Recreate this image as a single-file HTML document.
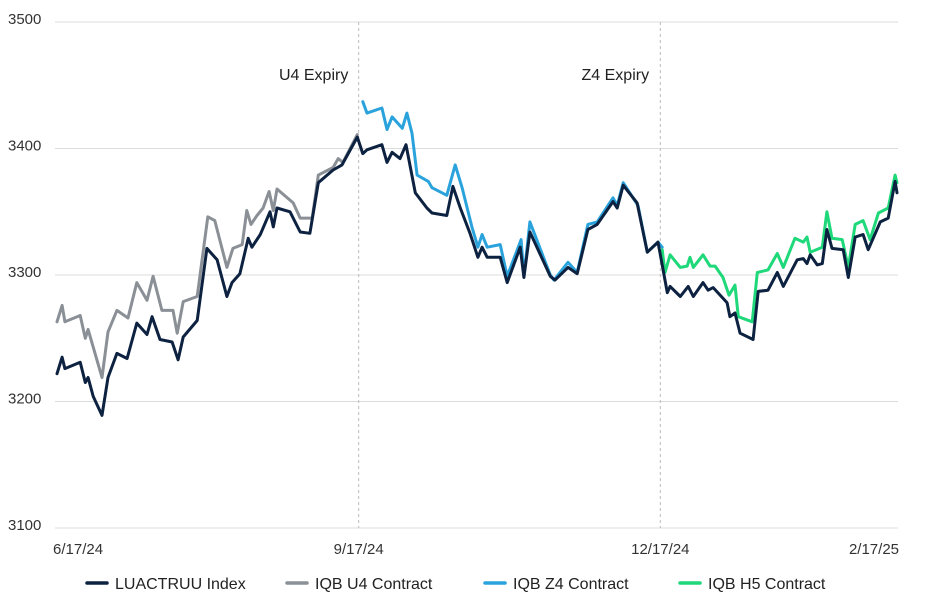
<!DOCTYPE html>
<html><head><meta charset="utf-8">
<style>
html,body{margin:0;padding:0;background:#fff;}
svg text{font-family:"Liberation Sans",sans-serif;}
</style></head>
<body>
<svg id="chart" width="940" height="600" viewBox="0 0 940 600" xmlns="http://www.w3.org/2000/svg">
<g id="grid"></g>
<g id="yaxis"></g>
<g id="xaxis"></g>
<g id="annot"></g>
<g id="series"></g>
<g id="legend"></g>
</svg>
<script>
// x in trading sessions from 6/17/24
const xTickSessions = [0, 65, 130, 181];
const xTickLabels = ["6/17/24", "9/17/24", "12/17/24", "2/17/25"];
const yTicks = [3100, 3200, 3300, 3400, 3500];
const expirySessions = [65, 130];
const expiryLabels = ["U4 Expiry", "Z4 Expiry"];

const idxSessions = [0,1.1,1.7,5,6.1,6.7,7.8,9.7,11,12.9,15.1,17.2,19.4,20.5,22.2,24.8,26.1,27.2,30.2,32.3,34.5,36.6,37.7,39.4,41.2,42,43.8,45.9,46.6,47.4,50.2,52.4,54.5,56.3,59.5,61.4,64.7,65.9,66.8,70,71.1,72.2,73.9,75.2,77.2,79.7,80.8,84,85.3,86.9,89,90.7,91.6,92.7,95.5,97,99.8,100.6,101.9,106.3,107.3,110.1,112.1,114.4,116.4,119.8,120.7,122,125,127.2,129.5,131.5,132.1,134.3,136,137.1,139.2,140.3,141.4,144.4,145,146.1,147.2,150,151.1,153.2,155.2,156.5,159.5,160.8,161.6,162.3,163.8,164.9,165.9,167,169.4,170.5,172,173.7,174.8,177.4,179.1,180.6,181];
const idxValues = [3222,3235,3226,3231,3215,3219,3204,3189,3219,3238,3234,3262,3253,3267,3249,3247,3233,3251,3264,3321,3312,3283,3294,3301,3329,3322,3332,3350,3338,3353,3350,3334,3333,3373,3383,3387,3409,3396,3399,3403,3389,3397,3392,3403,3365,3353,3349,3347,3370,3353,3333,3314,3322,3314,3314,3294,3322,3298,3334,3299,3296,3306,3301,3336,3340,3358,3353,3371,3357,3318,3326,3286,3291,3283,3291,3283,3294,3288,3290,3278,3267,3270,3254,3249,3287,3288,3302,3291,3312,3313,3309,3316,3308,3309,3336,3321,3320,3298,3330,3332,3320,3342,3345,3374,3365];

const u4Sessions = [0,1.1,1.7,5,6.1,6.7,9.7,11,12.9,15.3,17.2,19.4,20.7,22.6,25,25.9,27.2,30.2,32.5,34,36.6,37.9,39.9,40.9,41.8,43.1,44.4,45.7,46.6,47.4,50.9,52.4,55,56.3,59.5,60.6,61.6,64.7];
const u4Values = [3263,3276,3263,3268,3250,3257,3219,3255,3272,3266,3294,3280,3299,3272,3272,3254,3279,3283,3346,3343,3306,3321,3324,3351,3340,3347,3353,3366,3351,3368,3357,3345,3345,3379,3385,3392,3389,3411];

const z4Sessions = [65.9,66.8,70,71.1,72.2,74.4,75.4,76.5,77.6,80,80.8,84,85.8,87.3,89.4,90.7,91.6,92.7,95.5,97,100,100.6,101.9,106.3,107.1,110.1,112.1,114.4,116.4,119.8,120.7,122,125.2,127.2,129.5,130.4];
const z4Values = [3437,3428,3432,3415,3425,3416,3428,3412,3379,3374,3369,3363,3387,3369,3338,3322,3332,3322,3324,3299,3328,3299,3342,3300,3296,3310,3302,3340,3342,3361,3355,3373,3355,3318,3326,3322];

const h5Sessions = [130.4,131,132.1,134.3,135.8,136.4,137.1,139.2,140.7,141.8,143.5,144.8,146.1,146.8,149.8,150.9,153.2,155.2,156.5,159,160.8,161.6,162.3,164.9,165.9,167,169.2,170.5,172,173.7,175.2,177,179.1,180.6,181];
const h5Values = [3320,3302,3316,3306,3307,3314,3306,3316,3307,3307,3298,3284,3292,3267,3263,3302,3304,3317,3306,3329,3326,3330,3318,3322,3350,3329,3328,3306,3340,3343,3328,3349,3353,3379,3373];

const seriesNames = ["LUACTRUU Index", "IQB U4 Contract", "IQB Z4 Contract", "IQB H5 Contract"];
const seriesColors = ["#0d2240", "#8a9096", "#2aa3dc", "#1ed87a"];

const NS = "http://www.w3.org/2000/svg";
const X0 = 57, X1 = 897, Y0 = 528, Y1 = 22;
function xs(s){ return X0 + (s - 0) / 181 * (X1 - X0); }
function ys(v){ return Y0 - (v - 3100) / 400 * (Y0 - Y1); }
function mk(tag, attrs, parent){ const e = document.createElementNS(NS, tag); for (const k in attrs) e.setAttribute(k, attrs[k]); parent.appendChild(e); return e; }

const grid = document.getElementById('grid');
const yaxis = document.getElementById('yaxis');
yTicks.forEach(t => {
  const l = mk('line', {x1: 55, x2: 898, y1: ys(t), y2: ys(t), stroke: '#dcdcdc', 'stroke-width': 1}, grid);
  
  
  const tx = mk('text', {x: 8, y: ys(t) + 2, 'font-size': 15, fill: '#333'}, yaxis);
  tx.textContent = t;
  
  
});
const xaxis = document.getElementById('xaxis');
xTickSessions.forEach((s, i) => {
  const anchor = i === 0 ? 'start' : (i === xTickSessions.length - 1 ? 'end' : 'middle');
  const x = i === 0 ? xs(s) - 4 : (i === xTickSessions.length - 1 ? xs(s) + 2 : xs(s));
  const tx = mk('text', {x: x, y: 554, 'font-size': 15, fill: '#333', 'text-anchor': anchor}, xaxis);
  tx.textContent = xTickLabels[i];
  
  
});
const annot = document.getElementById('annot');
expirySessions.forEach((s, i) => {
  const l = mk('line', {x1: xs(s), x2: xs(s), y1: 22, y2: 528, stroke: '#bbb', 'stroke-width': 1, 'stroke-dasharray': '3,3'}, annot);
  
  
  const tx = mk('text', {x: xs(s) - 45, y: 80, 'font-size': 16, fill: '#222', 'text-anchor': 'middle'}, annot);
  tx.textContent = expiryLabels[i];
  
  
});
const series = document.getElementById('series');
const allS = [[idxSessions, idxValues], [u4Sessions, u4Values], [z4Sessions, z4Values], [h5Sessions, h5Values]];
const drawOrder = [1, 3, 2, 0];
const nm = ['line-luactruu', 'line-iqb-u4', 'line-iqb-z4', 'line-iqb-h5'];
drawOrder.forEach(k => {
  const [ss, vv] = allS[k];
  const pts = ss.map((s, i) => xs(s).toFixed(1) + ',' + ys(vv[i]).toFixed(1)).join(' ');
  const p = mk('polyline', {points: pts, fill: 'none', stroke: seriesColors[k], 'stroke-width': 3, 'stroke-linejoin': 'round', 'stroke-linecap': 'round'}, series);
  
  
});
const legend = document.getElementById('legend');
const legX = [87, 287, 485, 680];
seriesNames.forEach((n, i) => {
  const g = mk('g', {}, legend);
  
  
  mk('line', {x1: legX[i], x2: legX[i] + 20, y1: 583, y2: 583, stroke: seriesColors[i], 'stroke-width': 3.5, 'stroke-linecap': 'round'}, g);
  const tx = mk('text', {x: legX[i] + 28, y: 589, 'font-size': 16, fill: '#222'}, g);
  tx.textContent = n;
});
</script>
</body></html>
